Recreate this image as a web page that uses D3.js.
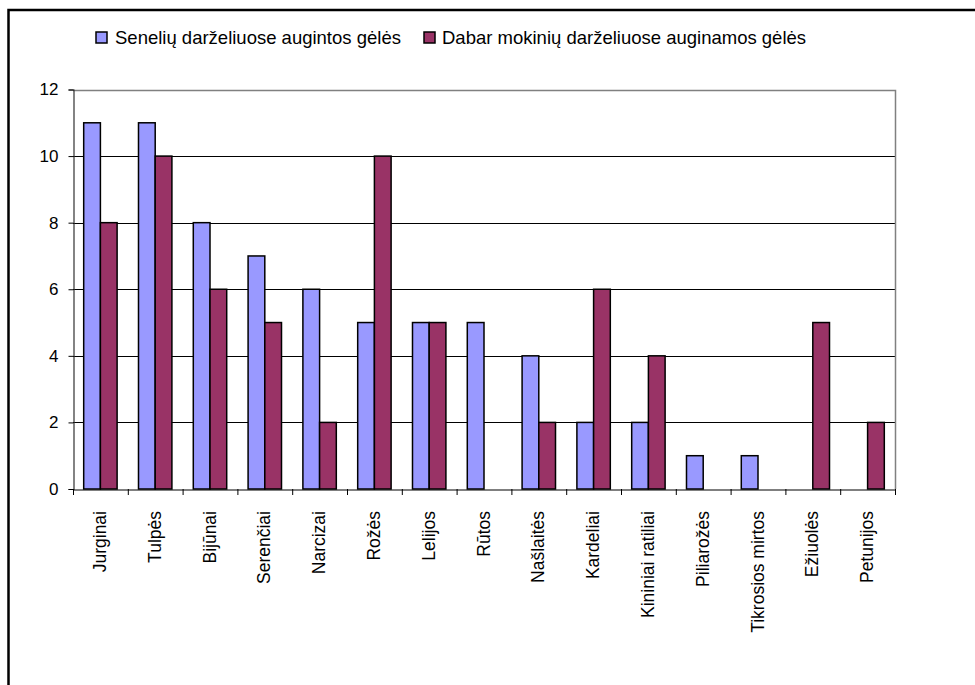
<!DOCTYPE html>
<html><head><meta charset="utf-8">
<script src="https://cdn.jsdelivr.net/npm/d3@7"></script>
<style>body{margin:0;background:#fff}svg{display:block}text{font-family:"Liberation Sans",Arial,sans-serif;fill:#000}</style>
</head><body>
<script>
const categories = ["Jurginai","Tulpės","Bijūnai","Serenčiai","Narcizai","Rožės","Lelijos","Rūtos","Našlaitės","Kardeliai","Kininiai ratiliai","Piliarožės","Tikrosios mirtos","Ežiuolės","Petunijos"];
const seriesNames = ["Senelių darželiuose augintos gėlės","Dabar mokinių darželiuose auginamos gėlės"];
const seneliu = [11,11,8,7,6,5,5,5,4,2,2,1,1,0,0];
const dabar = [8,10,6,5,2,10,5,0,2,6,4,0,0,5,2];
const yTicks = [0,2,4,6,8,10,12];
const colors = ["#9999FF","#993366"];

const W=975,H=685;
const svg=d3.select("body").append("svg").attr("width",W).attr("height",H);
// outer frame
svg.append("rect").attr("x",8.5).attr("y",10).attr("width",1000).attr("height",1000)
  .attr("fill","none").attr("stroke","#000").attr("stroke-width",2.5);

const L=73,R=895,T=89.5,B=489;
const x=d3.scaleBand().domain(categories).range([L,R]).padding(0);
const x1=d3.scaleBand().domain([0,1]).range([0,x.bandwidth()]).paddingInner(0).paddingOuter(0.64);
const y=d3.scaleLinear().domain([0,12]).range([B,T]);

// gridlines
svg.append("g").selectAll("line").data(yTicks.filter(d=>d>0&&d<12)).join("line")
  .attr("x1",L).attr("x2",R).attr("y1",d=>Math.round(y(d))+0.5).attr("y2",d=>Math.round(y(d))+0.5)
  .attr("stroke","#000").attr("stroke-width",1);
// plot border top/right gray
svg.append("path").attr("d",`M${L},${Math.round(T)+0.5}H${R+0.5}V${B}`).attr("fill","none").attr("stroke","#808080").attr("stroke-width",1.5);

// bars
const data=[seneliu,dabar];
data.forEach((vals,si)=>{
  svg.append("g").selectAll("rect").data(categories.map((c,i)=>({c,v:vals[i]})).filter(d=>d.v>0)).join("rect")
    .attr("x",d=>x(d.c)+x1(si)).attr("width",x1.bandwidth())
    .attr("y",d=>y(d.v)).attr("height",d=>B-y(d.v))
    .attr("fill",colors[si]).attr("stroke","#000").attr("stroke-width",1.5);
});

// y axis
const ya=svg.append("g").attr("transform",`translate(${L+0.5},0)`)
  .call(d3.axisLeft(y).tickValues(yTicks).tickSize(5).tickPadding(10).tickFormat(d3.format("d")));
ya.select(".domain").attr("stroke","#333").attr("stroke-width",1.2);
ya.selectAll(".tick line").attr("stroke","#000");
ya.selectAll("text").style("font-size","17px").attr("fill","#000");

// x axis
const xa=svg.append("g").attr("transform",`translate(0,${B+0.5})`)
  .call(d3.axisBottom(x).tickSize(0).tickFormat(""));
xa.select(".domain").attr("stroke","#000").attr("stroke-width",1.2);
xa.selectAll(".tick").remove();
const bounds=categories.map(c=>x(c)).concat([R]);
svg.append("g").selectAll("line").data(bounds).join("line")
  .attr("x1",d=>d+0.5).attr("x2",d=>d+0.5).attr("y1",B).attr("y2",B+6).attr("stroke","#000");
svg.append("g").selectAll("text").data(categories).join("text")
  .attr("transform",d=>`translate(${x(d)+x.bandwidth()/2+5.5},511) rotate(-90)`)
  .attr("text-anchor","end").style("font-size","17.5px").text(d=>d);

// legend
const leg=[{x:96,tx:115},{x:424,tx:442}];
leg.forEach((l,i)=>{
  svg.append("rect").attr("x",l.x).attr("y",32).attr("width",11).attr("height",11)
    .attr("fill",colors[i]).attr("stroke","#000").attr("stroke-width",1.5);
  svg.append("text").attr("x",l.tx).attr("y",43.5).style("font-size","18.5px").text(seriesNames[i]);
});
</script>
</body></html>
